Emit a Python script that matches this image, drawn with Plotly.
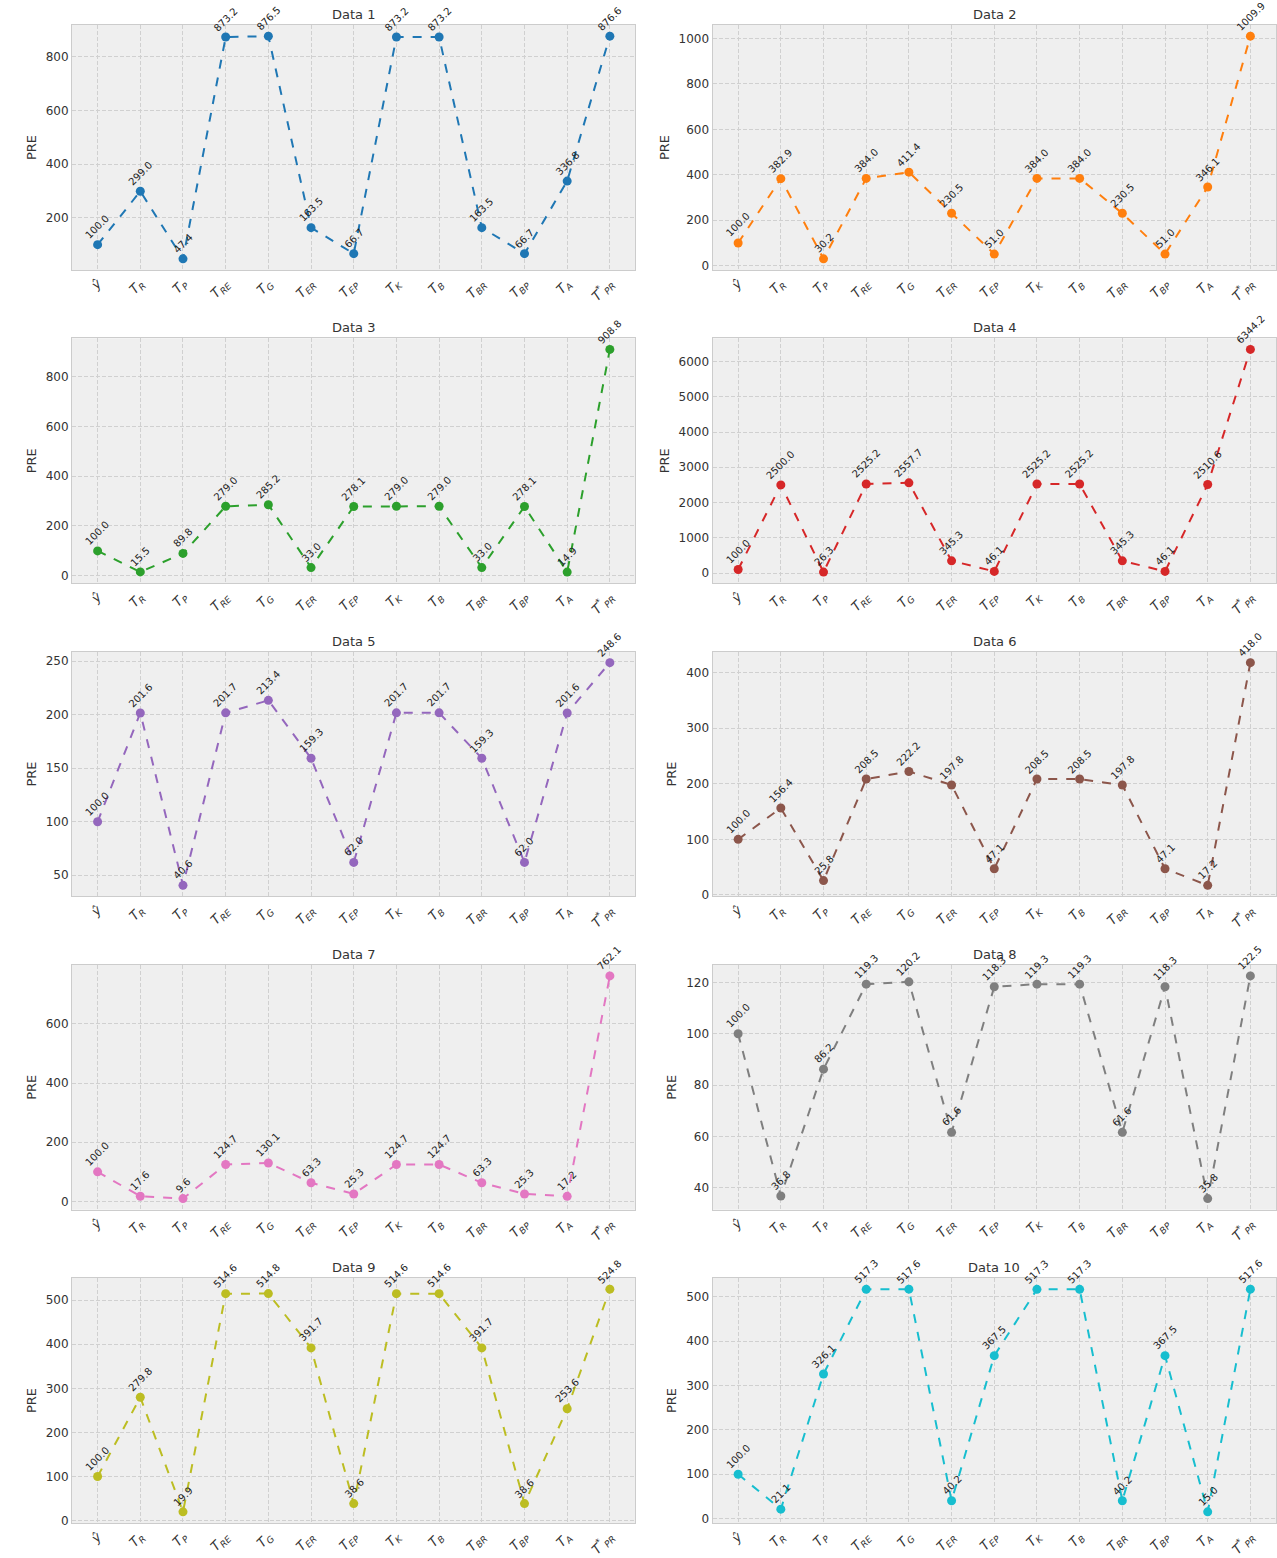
import plotly.graph_objects as go
from plotly.subplots import make_subplots

categories = ["ŷ", "T_R", "T_P", "T_RE", "T_G", "T_ER", "T_EP", "T_K", "T_B", "T_BR", "T_BP", "T_A", "T*_PR"]
tick_labels = [
    "<i>ŷ</i>",
    "<i>T</i><sub><i>R</i></sub>",
    "<i>T</i><sub><i>P</i></sub>",
    "<i>T</i><sub><i>RE</i></sub>",
    "<i>T</i><sub><i>G</i></sub>",
    "<i>T</i><sub><i>ER</i></sub>",
    "<i>T</i><sub><i>EP</i></sub>",
    "<i>T</i><sub><i>K</i></sub>",
    "<i>T</i><sub><i>B</i></sub>",
    "<i>T</i><sub><i>BR</i></sub>",
    "<i>T</i><sub><i>BP</i></sub>",
    "<i>T</i><sub><i>A</i></sub>",
    "<i>T</i><sup>*</sup><sub><i>PR</i></sub>",
]

data1 = [100.0, 299.0, 47.4, 873.2, 876.5, 163.5, 66.7, 873.2, 873.2, 163.5, 66.7, 336.8, 876.6]
data2 = [100.0, 382.9, 30.2, 384.0, 411.4, 230.5, 51.0, 384.0, 384.0, 230.5, 51.0, 346.1, 1009.9]
data3 = [100.0, 15.5, 89.8, 279.0, 285.2, 33.0, 278.1, 279.0, 279.0, 33.0, 278.1, 14.9, 908.8]
data4 = [100.0, 2500.0, 26.3, 2525.2, 2557.7, 345.3, 46.1, 2525.2, 2525.2, 345.3, 46.1, 2510.6, 6344.2]
data5 = [100.0, 201.6, 40.6, 201.7, 213.4, 159.3, 62.0, 201.7, 201.7, 159.3, 62.0, 201.6, 248.6]
data6 = [100.0, 156.4, 25.8, 208.5, 222.2, 197.8, 47.1, 208.5, 208.5, 197.8, 47.1, 17.2, 418.0]
data7 = [100.0, 17.6, 9.6, 124.7, 130.1, 63.3, 25.3, 124.7, 124.7, 63.3, 25.3, 17.2, 762.1]
data8 = [100.0, 36.8, 86.2, 119.3, 120.2, 61.6, 118.3, 119.3, 119.3, 61.6, 118.3, 35.8, 122.5]
data9 = [100.0, 279.8, 19.9, 514.6, 514.8, 391.7, 38.6, 514.6, 514.6, 391.7, 38.6, 253.6, 524.8]
data10 = [100.0, 21.1, 326.1, 517.3, 517.6, 40.2, 367.5, 517.3, 517.3, 40.2, 367.5, 15.0, 517.6]

series = [data1, data2, data3, data4, data5, data6, data7, data8, data9, data10]
titles = [f"Data {i}" for i in range(1, 11)]
colors = ["#1f77b4", "#ff7f0e", "#2ca02c", "#d62728", "#9467bd",
          "#8c564b", "#e377c2", "#7f7f7f", "#bcbd22", "#17becf"]

fig = make_subplots(rows=5, cols=2, subplot_titles=titles,
                    horizontal_spacing=0.064, vertical_spacing=0.0456)

x = list(range(len(categories)))
for k, vals in enumerate(series):
    r, c = k // 2 + 1, k % 2 + 1
    fig.add_trace(go.Scatter(
        x=x, y=vals, mode="lines+markers",
        line=dict(color=colors[k], width=2, dash="dash"),
        marker=dict(color=colors[k], size=9),
        showlegend=False, name=titles[k]),
        row=r, col=c)
    for i, v in enumerate(vals):
        fig.add_annotation(
            x=i, y=v, text=f"{v:.1f}", showarrow=False, textangle=-45,
            font=dict(size=10, color="#222", family="DejaVu Sans"),
            xanchor="center", yanchor="bottom", yshift=1,
            row=r, col=c)
    lo, hi = min(vals), max(vals)
    pad = (hi - lo) * 0.05
    fig.update_yaxes(range=[lo - pad, hi + pad], title_text="PRE",
                     title_standoff=6, row=r, col=c)
    fig.update_xaxes(range=[-0.6, 12.6], tickmode="array", tickvals=x,
                     ticktext=tick_labels, tickangle=-45, row=r, col=c)

axis_common = dict(
    showgrid=True, gridcolor="#d0d0d0", griddash="4px,2px", gridwidth=1,
    showline=True, linecolor="#cccccc", linewidth=1, mirror=True,
    zeroline=False, ticks="", automargin=False,
    tickfont=dict(size=12, color="#333", family="DejaVu Sans"),
    title_font=dict(size=13, color="#333", family="DejaVu Sans"),
)
fig.update_xaxes(**axis_common)
fig.update_xaxes(tickfont=dict(size=13, color="#333", family="DejaVu Sans"))
fig.update_yaxes(**axis_common)

for ann in fig.layout.annotations:
    if ann.text in titles:
        ann.font = dict(size=13, color="#333", family="DejaVu Sans")
        ann.yshift = 1

fig.update_layout(
    width=1277, height=1558,
    margin=dict(l=72, r=1, t=25, b=35),
    paper_bgcolor="white", plot_bgcolor="#efefef",
    font=dict(family="DejaVu Sans", color="#333"),
)

fig.write_html("out.html", config={"displayModeBar": False})

with open("out.html", "r", encoding="utf-8") as f:
    html = f.read()
html = html.replace("<head>", "<head><style>html,body{margin:0;padding:0;overflow:hidden;}</style>", 1)
with open("out.html", "w", encoding="utf-8") as f:
    f.write(html)
